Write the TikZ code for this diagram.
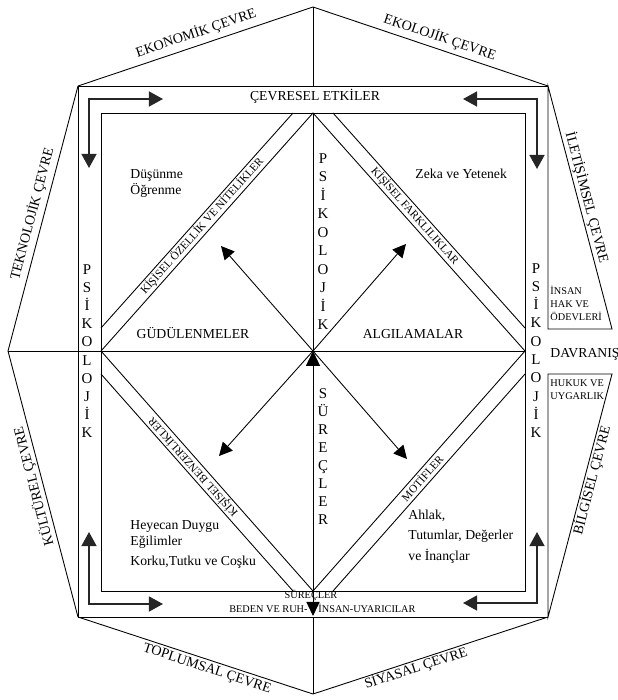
\documentclass[tikz,border=0pt]{standalone}
\usepackage{fontspec}
\setmainfont{Liberation Serif}
\usetikzlibrary{arrows.meta}

\begin{document}
\begin{tikzpicture}[x=0.02cm,y=-0.02cm,line width=0.5pt,
  ok/.style={-{Triangle[length=7.5pt,width=7.5pt]}},
  ciftok/.style={{Triangle[length=8pt,width=7.5pt]}-{Triangle[length=8.5pt,width=8pt]}},
  kose/.style={{Triangle[length=8pt,width=8.5pt]}-{Triangle[length=8pt,width=8.5pt]},line width=1pt,black!85},
  cevre/.style={font=\fontsize{8pt}{9pt}\selectfont,inner sep=0pt},
  baslik/.style={font=\fontsize{7.8pt}{9.1pt}\selectfont,inner sep=0pt},
  harf/.style={font=\fontsize{8.5pt}{9pt}\selectfont,inner sep=0pt,anchor=base},
  kucuk/.style={font=\fontsize{5.85pt}{7.4pt}\selectfont,inner sep=0pt,align=left,anchor=base west},
  serit/.style={font=\fontsize{6.4pt}{7pt}\selectfont,inner sep=0pt}]
  \useasboundingbox (0,0) rectangle (618,700);

  % sekizgenin köşeleri
  \coordinate (ust) at (313,7);
  \coordinate (alt) at (313,694);
  \coordinate (sol) at (8,351);
  \coordinate (dSolUst) at (78,86);
  \coordinate (dSagUst) at (548,86);
  \coordinate (dSolAlt) at (78,617);
  \coordinate (dSagAlt) at (548,617);
  \coordinate (merkez) at (313,351);

  % dış çevre ve kareler
  \draw (dSolUst) -- (ust) -- (dSagUst);
  \draw (dSolUst) -- (sol) -- (dSolAlt);
  \draw (dSolAlt) -- (alt) -- (dSagAlt);
  \draw (dSagUst) -- (dSolUst) -- (dSolAlt) -- (dSagAlt);
  \draw (dSagUst) -- (612,329) -- (548,329) -- cycle;
  \draw (dSagAlt) -- (612,374) -- (548,374) -- cycle;
  \draw (101,113) rectangle (525,591);

  % baklava ve şeritler
  \draw (313,113) -- (101,351) -- (313,591) -- (525,351) -- cycle;
  \draw (293,113) -- (101,328);
  \draw (333,113) -- (525,328);
  \draw (101,374) -- (293,591);
  \draw (525,374) -- (333,591);
  \draw (sol) -- (525,351);
  \draw (ust) -- (313,86);
  \draw (313,113) -- (merkez);
  \draw (313,617) -- (alt);

  % oklar
  \coordinate (surecUc) at (313,616);
  \draw[ciftok] (surecUc) -- (merkez);
  \coordinate (okSolUst) at (221,246);
  \coordinate (okSagUst) at (406,244);
  \coordinate (okSolAlt) at (219,456);
  \coordinate (okSagAlt) at (407,459);
  \draw[ok] (merkez) -- (okSolUst);
  \draw[ok] (merkez) -- (okSagUst);
  \draw[ok] (merkez) -- (okSolAlt);
  \draw[ok] (merkez) -- (okSagAlt);

  \draw[kose] (163,99) -- (89,99) -- (89,168);
  \draw[kose] (463,99) -- (537,99) -- (537,169);
  \draw[kose] (163,604) -- (89,604) -- (89,532);
  \draw[kose] (463,603) -- (537,603) -- (537,532);

  % çevre adları
  \node[cevre,rotate=18.6] (ekonomik) at (196,33) {EKONOMİK ÇEVRE};
  \node[cevre,rotate=-18.6] (ekolojik) at (440,37) {EKOLOJİK ÇEVRE};
  \node[cevre,rotate=75.2] (teknolojik) at (32,214) {TEKNOLOJİK ÇEVRE};
  \node[cevre,rotate=104.7] (kulturel) at (34,486) {KÜLTÜREL ÇEVRE};
  \node[cevre,rotate=-75.2] (iletisim) at (587,198) {İLETİŞİMSEL ÇEVRE};
  \node[cevre,rotate=75.3] (bilgisel) at (592,480) {BİLGİSEL ÇEVRE};
  \node[cevre,rotate=-18.1] (toplumsal) at (207,669) {TOPLUMSAL ÇEVRE};
  \node[cevre,rotate=18.1] (siyasal) at (416,668) {SİYASAL ÇEVRE};

  % iç yazılar (çok satırlılarda taban son satırdadır)
  \node[baslik,anchor=base] (cevresel) at (315,100) {ÇEVRESEL ETKİLER};
  \node[baslik,anchor=base] (gudu) at (193,338) {GÜDÜLENMELER};
  \node[baslik,anchor=base] (algi) at (413,338) {ALGILAMALAR};
  \node[baslik,anchor=base west] (davranis) at (550,357) {DAVRANIŞ};
  \node[baslik,anchor=base west,align=left] (dusunme) at (130,194) {Düşünme\\Öğrenme};
  \node[baslik,anchor=base west] (zeka) at (415,178) {Zeka ve Yetenek};
  \node[baslik,anchor=base west,align=left] (heyecan) at (130,565)
    {Heyecan Duygu\\Eğilimler\\[2.2pt]Korku,Tutku ve Coşku};
  \node[baslik,anchor=base west,align=left,font=\fontsize{7.8pt}{11.4pt}\selectfont] (ahlak) at (408,560)
    {Ahlak,\\Tutumlar, Değerler\\ve İnançlar};
  \node[kucuk] (insan) at (550,320) {İNSAN\\HAK VE\\ÖDEVLERİ};
  \node[kucuk,font=\fontsize{5.85pt}{6.9pt}\selectfont] (hukuk) at (550,399) {HUKUK VE\\UYGARLIK};
  \node[kucuk,anchor=base] (surecler) at (311,598) {SÜREÇLER};
  \node[kucuk,anchor=base east] (beden) at (308,612) {BEDEN VE RUH-};
  \node[kucuk] (uyarici) at (318,612) {İNSAN-UYARICILAR};

  % şerit yazıları
  \node[serit,rotate=48.3] (ozellik) at (202,226) {KİŞİSEL ÖZELLİK VE NİTELİKLER};
  \node[serit,rotate=-48.3] (farklilik) at (415,216) {KİŞİSEL FARKLILIKLAR};
  \node[serit,rotate=131.7] (benzerlik) at (193,467) {KİŞİSEL BENZERLİKLER};
  \node[serit,rotate=48.3] (motif) at (422,478) {MOTİFLER};

  % dikey harfler
  \foreach \h [count=\i from 0] in {P,S,İ,K,O,L,O,J,İ,K}{
    \node[harf] (solPsi\i) at (87,274+18.2*\i) {\h};
    \node[harf] (sagPsi\i) at (536,273+18.3*\i) {\h};
    \node[harf] (ortaPsi\i) at (323,163+18.55*\i) {\h};
  }
  \foreach \h [count=\i from 0] in {S,Ü,R,E,Ç,L,E,R}{
    \node[harf] (surec\i) at (323,398+18.14*\i) {\h};
  }
\end{tikzpicture}
\end{document}
